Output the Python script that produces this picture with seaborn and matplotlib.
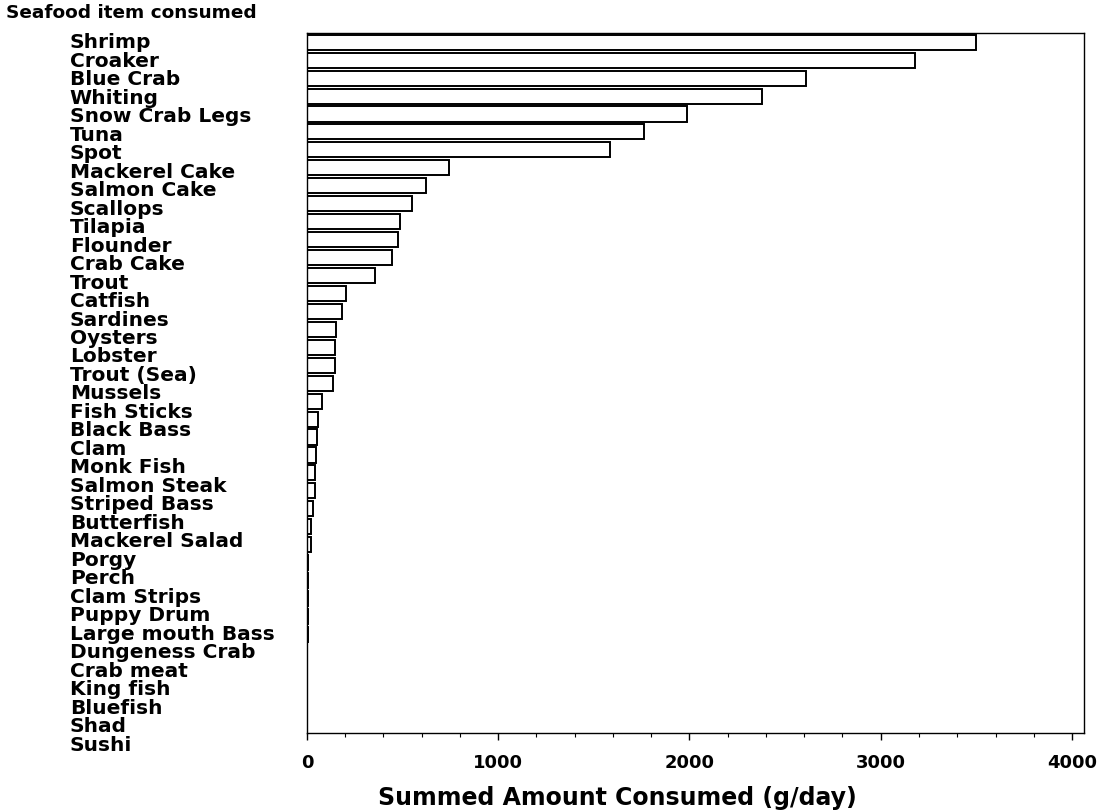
import matplotlib
matplotlib.use("Agg")
import matplotlib.pyplot as plt
import matplotlib.transforms as mtransforms
import seaborn as sns
import pandas as pd
import numpy as np
from matplotlib.ticker import MultipleLocator

items = ["Shrimp", "Croaker", "Blue Crab", "Whiting", "Snow Crab Legs", "Tuna", "Spot",
         "Mackerel Cake", "Salmon Cake", "Scallops", "Tilapia", "Flounder", "Crab Cake",
         "Trout", "Catfish", "Sardines", "Oysters", "Lobster", "Trout (Sea)", "Mussels",
         "Fish Sticks", "Black Bass", "Clam", "Monk Fish", "Salmon Steak", "Striped Bass",
         "Butterfish", "Mackerel Salad", "Porgy", "Perch", "Clam Strips", "Puppy Drum",
         "Large mouth Bass", "Dungeness Crab", "Crab meat", "King fish", "Bluefish",
         "Shad", "Sushi"]
amounts = [3500, 3180, 2610, 2380, 1985, 1760, 1585,
           745, 625, 550, 485, 476, 445,
           356, 207, 183, 152, 147, 145, 136,
           79, 58, 52, 47, 44, 40,
           31, 23, 20, 8, 6, 5,
           4, 4, 3, 2, 1.5,
           1, 0.5]
x_ticks = [0, 1000, 2000, 3000, 4000]

df = pd.DataFrame({"item": items, "amount": amounts})

sns.set_theme(style="white")
plt.rcParams["font.family"] = ["DejaVu Sans"]
plt.rcParams["text.color"] = "black"
plt.rcParams["axes.labelcolor"] = "black"
plt.rcParams["xtick.color"] = "black"
plt.rcParams["ytick.color"] = "black"

fig = plt.figure(figsize=(11, 8.11), dpi=100)
ax = fig.add_axes([0.279, 0.096, 0.706, 0.863])

sns.barplot(data=df, x="amount", y="item", orient="h", ax=ax,
            color="white", edgecolor="black", linewidth=1.4, width=0.84)

ax.set_xlim(0, 4060)
ax.set_xticks(x_ticks)
ax.set_xticklabels([str(t) for t in x_ticks], fontsize=13, fontweight="bold")
ax.xaxis.set_minor_locator(MultipleLocator(200))
ax.tick_params(axis="x", which="major", direction="out", length=5, width=1, bottom=True, pad=10)
ax.tick_params(axis="x", which="minor", direction="out", length=3, width=0.8, bottom=True)
ax.tick_params(axis="y", which="major", left=False, labelleft=False)

# category labels: left-aligned column, slightly wider spacing than the bars as in the source
trans = mtransforms.blended_transform_factory(ax.transAxes, ax.transData)
label_step = 1.03
for i, name in enumerate(items):
    ax.text(-0.3054, 0.03 + i * label_step, name, transform=trans, ha="left", va="center",
            fontsize=14.5, fontweight="bold", color="black", clip_on=False)

ax.set_ylabel("")
ax.set_xlabel("Summed Amount Consumed (g/day)", fontsize=17, fontweight="bold", color="black")
ax.xaxis.set_label_coords(0.4, -0.076)
for s in ax.spines.values():
    s.set_color("black")
    s.set_linewidth(1.0)
ax.grid(False)

fig.text(0.005, 0.984, "Seafood item consumed", fontsize=13.3, fontweight="bold",
         ha="left", va="center", color="black")

fig.savefig("out.png", dpi=100, facecolor="white")
